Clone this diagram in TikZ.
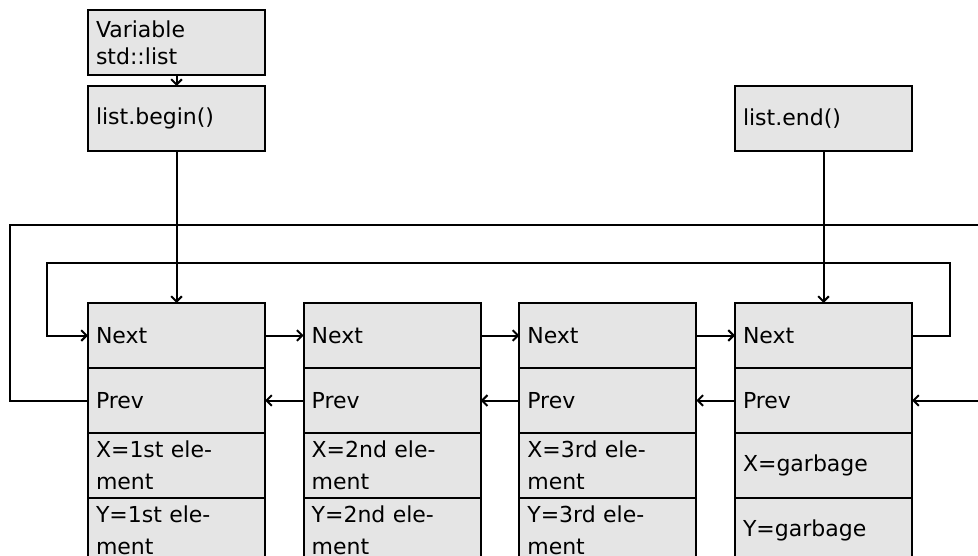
\documentclass[tikz,border=0pt]{standalone}
\usepackage{fontspec}
\setmainfont{DejaVu Sans}
\usetikzlibrary{positioning, arrows.meta}

\begin{document}
\begin{tikzpicture}[
    x=0.75pt, y=-0.75pt,
    node distance=29pt,
    cell/.style={rectangle, draw, fill=black!10, line width=1.5pt, outer sep=0pt, text width=120.75pt, inner xsep=6pt, minimum height=48.75pt, align=left, font=\fontsize{16.5}{23.8}\selectfont},
    link/.style={line width=1.5pt},
    arrow/.style={link, -{Straight Barb[length=4pt, width=8pt]}}
]
\useasboundingbox (0,0) rectangle (978,556);

% List nodes
\node[cell] (n1) at (176.5,335.5) {Next};
\node[cell, below=0pt of n1] (p1) {Prev};
\node[cell, below=0pt of p1] (x1) {X=1st ele-\\ment};
\node[cell, below=0pt of x1] (y1) {Y=1st ele-\\ment};

\node[cell, right=of n1] (n2) {Next};
\node[cell, below=0pt of n2] (p2) {Prev};
\node[cell, below=0pt of p2] (x2) {X=2nd ele-\\ment};
\node[cell, below=0pt of x2] (y2) {Y=2nd ele-\\ment};

\node[cell, right=of n2] (n3) {Next};
\node[cell, below=0pt of n3] (p3) {Prev};
\node[cell, below=0pt of p3] (x3) {X=3rd ele-\\ment};
\node[cell, below=0pt of x3] (y3) {Y=3rd ele-\\ment};

\node[cell, right=of n3] (n4) {Next};
\node[cell, below=0pt of n4] (p4) {Prev};
\node[cell, below=0pt of p4] (x4) {X=garbage};
\node[cell, below=0pt of x4] (y4) {Y=garbage};

% Variable and iterators
\node[cell, font=\fontsize{16.5}{20}\selectfont] (var) at (176.5,42.5) {Variable\\std::list};
\node[cell, below=8.25pt of var] (begin) {list.begin()};
\node[cell] (end) at (n4 |- begin) {list.end()};

% Corners of the wrap-around links
\coordinate (outL) at (10,225);
\coordinate (outR) at (995,225);
\coordinate (inL) at (47,263);
\coordinate (inR) at (950,263);

\draw[arrow] (var) -- (begin);
\draw[arrow] (begin) -- (n1);
\draw[arrow] (end) -- (n4);

\draw[arrow] (n1) -- (n2);
\draw[arrow] (n2) -- (n3);
\draw[arrow] (n3) -- (n4);
\draw[arrow] (p2) -- (p1);
\draw[arrow] (p3) -- (p2);
\draw[arrow] (p4) -- (p3);

\draw[arrow] (n4.east) -| (inR) -- (inL) |- (n1.west);
\draw[arrow] (p1.west) -| (outL) -- (outR) |- (p4.east);

\end{tikzpicture}
\end{document}
